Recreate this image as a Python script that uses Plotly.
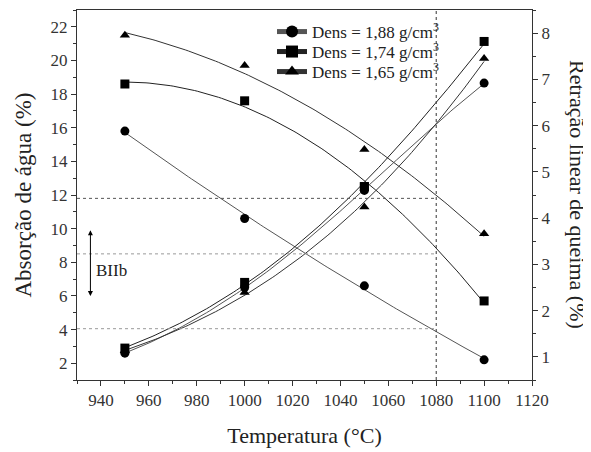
import numpy as np
import plotly.graph_objects as go

# ---- data ----
temperatures = [950, 1000, 1050, 1100]
series_names = ["Dens = 1,88 g/cm<sup>3</sup>", "Dens = 1,74 g/cm<sup>3</sup>", "Dens = 1,65 g/cm<sup>3</sup>"]
symbols = ["circle", "square", "triangle-up"]

absorption_188 = [15.8, 10.6, 6.6, 2.2]
absorption_174 = [18.6, 17.6, 12.5, 5.7]
absorption_165 = [21.5, 19.7, 14.7, 9.7]

shrinkage_188 = [1.08, 2.50, 4.60, 6.92]
shrinkage_174 = [1.19, 2.61, 4.68, 7.82]
shrinkage_165 = [1.13, 2.39, 4.24, 7.45]

ref_h_levels = [11.8, 8.5, 4.05]
ref_h_colors = ["#555555", "#999999", "#999999"]
ref_v_temp = 1080
biib_range = [6, 10]

absorption = [absorption_188, absorption_174, absorption_165]
shrinkage = [shrinkage_188, shrinkage_174, shrinkage_165]
line_colors = ["#555555", "#222222", "#333333"]

FONT = "Liberation Serif"
fig = go.Figure()

xs = np.linspace(temperatures[0], temperatures[-1], 120)
for i in range(3):
    # fitted curves
    ca = np.polyfit(temperatures, absorption[i], 2)
    fig.add_trace(go.Scatter(x=xs, y=np.polyval(ca, xs), mode="lines",
                             line=dict(color=line_colors[i], width=1),
                             showlegend=False, hoverinfo="skip"))
    cs = np.polyfit(temperatures, np.log(shrinkage[i]), 2)
    fig.add_trace(go.Scatter(x=xs, y=np.exp(np.polyval(cs, xs)), mode="lines",
                             line=dict(color=line_colors[i], width=1),
                             yaxis="y2", showlegend=False, hoverinfo="skip"))

legend_ids = ["legend", "legend2", "legend3"]
for i in range(3):
    fig.add_trace(go.Scatter(x=temperatures, y=absorption[i], mode="markers",
                             marker=dict(symbol=symbols[i], size=9, color="black"),
                             showlegend=False))
    fig.add_trace(go.Scatter(x=temperatures, y=shrinkage[i], mode="markers",
                             marker=dict(symbol=symbols[i], size=9, color="black"),
                             yaxis="y2", showlegend=False))
    # legend entries
    fig.add_trace(go.Scatter(x=[None], y=[None], mode="lines+markers", name=series_names[i],
                             marker=dict(symbol=symbols[i], size=9, color="black"),
                             line=dict(color=line_colors[i], width=1),
                             legend=legend_ids[i]))

shapes = []
for lvl, col in zip(ref_h_levels, ref_h_colors):
    shapes.append(dict(type="line", xref="x", yref="y", x0=930, x1=ref_v_temp, y0=lvl, y1=lvl,
                       line=dict(color=col, width=1, dash="dot")))
shapes.append(dict(type="line", xref="x", yref="paper", x0=ref_v_temp, x1=ref_v_temp, y0=0, y1=1,
                   line=dict(color="#333333", width=1, dash="dot")))

annotations = [
    dict(x=935.6, y=biib_range[0], ax=935.6, ay=biib_range[1], xref="x", yref="y",
         axref="x", ayref="y", text="", showarrow=True, arrowhead=2, arrowside="end+start",
         arrowsize=1, arrowwidth=1, arrowcolor="black"),
    dict(x=937.2, y=7.5, xref="x", yref="y", text="BIIb", showarrow=False,
         xanchor="left", font=dict(family=FONT, size=17, color="#222")),
    dict(x=1.101, y=0.5, xref="paper", yref="paper", text="Retração linear de queima (%)",
         textangle=90, showarrow=False, xanchor="center", yanchor="middle",
         font=dict(family=FONT, size=22, color="#222")),
]

axis_common = dict(showline=True, linecolor="#333", linewidth=1, ticks="outside",
                   ticklen=5, tickcolor="#333", showgrid=False, zeroline=False,
                   tickfont=dict(family=FONT, size=17, color="#333"))

legend_style = dict(x=0.4286, xanchor="left", yanchor="middle", bgcolor="rgba(0,0,0,0)",
                    font=dict(family=FONT, size=17, color="#222"), itemsizing="constant")
legend_rows = [0.9405, 0.8865, 0.8324]

fig.update_layout(
    width=583, height=444,
    margin=dict(l=69, r=59, t=2, b=72),
    paper_bgcolor="white", plot_bgcolor="white",
    font=dict(family=FONT, color="#222"),
    xaxis=dict(range=[930, 1120], dtick=20, tick0=940, mirror=True,
               minor=dict(ticks="outside", dtick=10, ticklen=3, tickcolor="#333"),
               title=dict(text="Temperatura (°C)", font=dict(family=FONT, size=22), standoff=18),
               **axis_common),
    yaxis=dict(range=[1, 23], dtick=2, tick0=2,
               minor=dict(ticks="outside", dtick=1, ticklen=3, tickcolor="#333"),
               title=dict(text="Absorção de água (%)", font=dict(family=FONT, size=23), standoff=12),
               **axis_common),
    yaxis2=dict(range=[0.5, 8.5], dtick=1, tick0=1, overlaying="y", side="right",
                minor=dict(ticks="outside", dtick=0.5, ticklen=3, tickcolor="#333"),
                **axis_common),
    legend=dict(y=legend_rows[0], **legend_style),
    legend2=dict(y=legend_rows[1], **legend_style),
    legend3=dict(y=legend_rows[2], **legend_style),
    shapes=shapes, annotations=annotations,
)

fig.write_html("out.html")
